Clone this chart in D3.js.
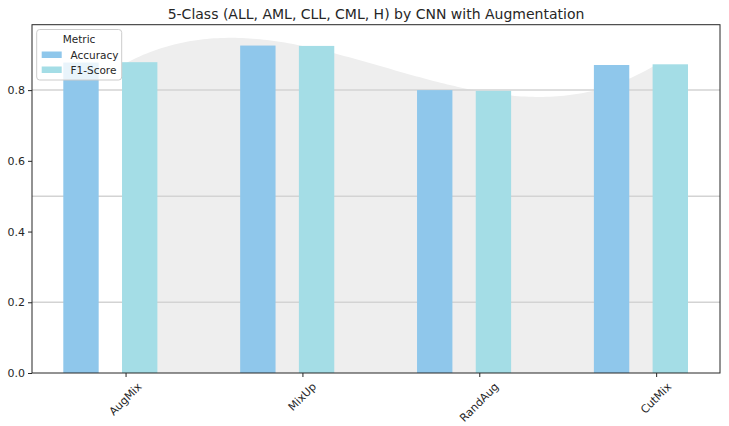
<!DOCTYPE html>
<html>
<head>
<meta charset="utf-8">
<script src="https://cdn.jsdelivr.net/npm/d3@7"></script>
<style>
  body { margin: 0; background: #fff; }
  text { font-family: "DejaVu Sans", sans-serif; fill: #262626; }
</style>
</head>
<body>
<svg id="chart" width="729" height="426"></svg>
<script>
// data
let methods = ["AugMix", "MixUp", "RandAug", "CutMix"];
let accuracy = [0.878, 0.926, 0.800, 0.871];
let f1Score = [0.879, 0.925, 0.798, 0.873];
let trendValues = [0.876, 0.925, 0.797, 0.872];
let refLines = [0.2, 0.5, 0.8];
let yTicks = [0.0, 0.2, 0.4, 0.6, 0.8];
let metrics = ["Accuracy", "F1-Score"];

let accColor = "#8fc7eb";
let f1Color = "#a4dde6";

let width = 729;
let height = 426;
let margin = {left: 32, right: 9, top: 24.7, bottom: 53};

let svg = d3.select("#chart");

let x = d3.scaleLinear()
  .domain([-0.529, 3.361])
  .range([margin.left, width - margin.right]);
let y = d3.scaleLinear()
  .domain([0, 0.985])
  .range([height - margin.bottom, margin.top]);

let barW = 0.2;

// smooth trend through the category values (cubic through the 4 points)
function lagrange(t) {
  let s = 0;
  for (let i = 0; i < trendValues.length; i++) {
    let p = trendValues[i];
    for (let j = 0; j < trendValues.length; j++) {
      if (j != i) p *= (t - j) / (i - j);
    }
    s += p;
  }
  return s;
}
let trendPts = d3.range(0, 3.0001, 0.02).map(function(t) { return [t, lagrange(t)]; });

svg.append("path")
  .datum(trendPts)
  .attr("d", d3.area()
    .x(function(d) { return x(d[0]); })
    .y0(y(0))
    .y1(function(d) { return y(d[1]); }))
  .style("fill", "#eeeeee");

// reference lines
svg.selectAll(".refLine")
  .data(refLines)
  .enter()
  .append("line")
    .attr("x1", margin.left)
    .attr("x2", width - margin.right)
    .attr("y1", function(d) { return y(d); })
    .attr("y2", function(d) { return y(d); })
    .style("stroke", "#d3d3d3")
    .style("stroke-width", "1.5px");

// bars
svg.selectAll(".accBar")
  .data(accuracy)
  .enter()
  .append("rect")
    .attr("x", function(d, i) { return x(i - 0.352); })
    .attr("y", function(d) { return y(d); })
    .attr("width", x(barW) - x(0))
    .attr("height", function(d) { return y(0) - y(d); })
    .style("fill", accColor);

svg.selectAll(".f1Bar")
  .data(f1Score)
  .enter()
  .append("rect")
    .attr("x", function(d, i) { return x(i - 0.02); })
    .attr("y", function(d) { return y(d); })
    .attr("width", x(barW) - x(0))
    .attr("height", function(d) { return y(0) - y(d); })
    .style("fill", f1Color);

// frame
svg.append("rect")
  .attr("x", margin.left)
  .attr("y", margin.top)
  .attr("width", width - margin.right - margin.left)
  .attr("height", y(0) - margin.top)
  .style("fill", "none")
  .style("stroke", "#262626")
  .style("stroke-width", "1px");

// y axis
let yAxis = svg.append("g")
  .attr("transform", "translate(" + margin.left + ",0)")
  .call(d3.axisLeft(y).tickValues(yTicks).tickFormat(d3.format(".1f")).tickSize(4).tickPadding(3));
yAxis.select(".domain").remove();
yAxis.selectAll("line").style("stroke", "#262626");
yAxis.selectAll("text").style("font-size", "11px").style("fill", "#262626");

// x axis ticks
let xAxis = svg.append("g")
  .attr("transform", "translate(0," + y(0) + ")")
  .call(d3.axisBottom(x).tickValues(d3.range(methods.length)).tickFormat("").tickSize(4));
xAxis.select(".domain").remove();
xAxis.selectAll("line").style("stroke", "#262626");

// rotated x labels, bbox centred on tick like matplotlib
svg.selectAll(".xLabel")
  .data(methods)
  .enter()
  .append("text")
    .text(function(d) { return d; })
    .style("font-size", "11px")
    .style("text-anchor", "middle")
    .style("dominant-baseline", "central")
    .each(function(d, i) {
      let w = this.getComputedTextLength();
      let half = (w + 11) * 0.7071 / 2;
      let cx = x(i);
      let cy = y(0) + 8 + half;
      d3.select(this)
        .attr("x", cx)
        .attr("y", cy)
        .attr("transform", "rotate(-45," + cx + "," + cy + ")");
    });

// title
svg.append("text")
  .attr("x", (margin.left + width - margin.right) / 2)
  .attr("y", 14)
  .text("5-Class (ALL, AML, CLL, CML, H) by CNN with Augmentation")
  .style("text-anchor", "middle")
  .style("dominant-baseline", "central")
  .style("font-size", "14px");

// legend
let legend = svg.append("g");
legend.append("rect")
  .attr("x", 36.7)
  .attr("y", 29.5)
  .attr("width", 85)
  .attr("height", 50.5)
  .attr("rx", 3)
  .style("fill", "white")
  .style("fill-opacity", 0.8)
  .style("stroke", "#cccccc")
  .style("stroke-width", "1px");
legend.append("text")
  .attr("x", 79)
  .attr("y", 39)
  .text("Metric")
  .style("text-anchor", "middle")
  .style("dominant-baseline", "central")
  .style("font-size", "10.5px");
legend.selectAll(".legPatch")
  .data(metrics)
  .enter()
  .append("rect")
    .attr("x", 41.7)
    .attr("y", function(d, i) { return 51.5 + i * 15; })
    .attr("width", 20)
    .attr("height", 6.5)
    .style("fill", function(d, i) { return i == 0 ? accColor : f1Color; });
legend.selectAll(".legText")
  .data(metrics)
  .enter()
  .append("text")
    .attr("x", 70.5)
    .attr("y", function(d, i) { return 54.7 + i * 15; })
    .text(function(d) { return d; })
    .style("dominant-baseline", "central")
    .style("font-size", "10.5px");
</script>
</body>
</html>
